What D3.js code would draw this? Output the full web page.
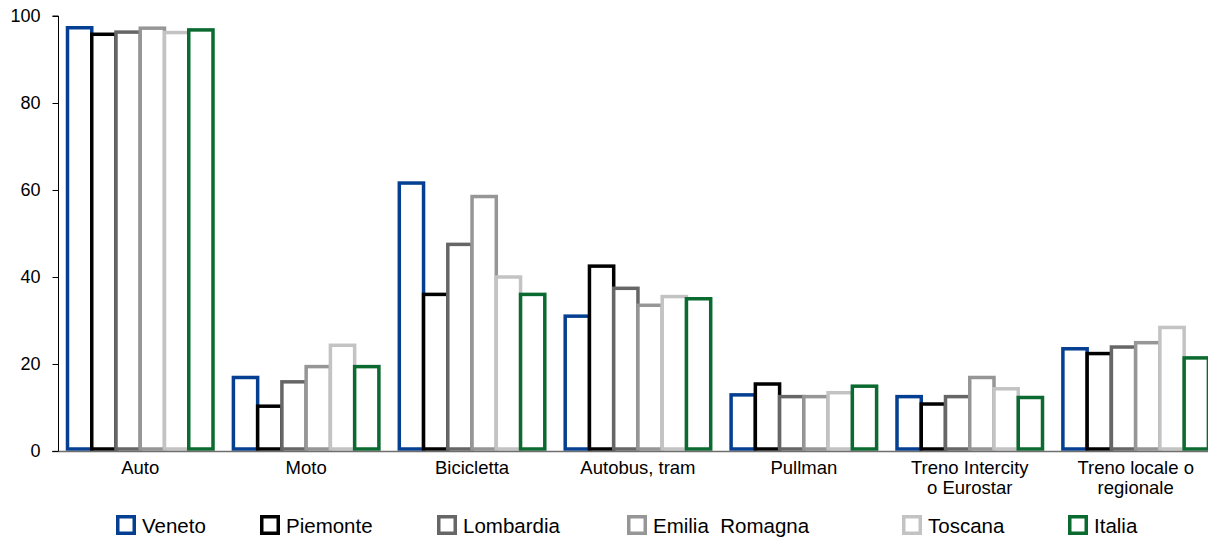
<!DOCTYPE html>
<html><head><meta charset="utf-8">
<script src="https://cdn.jsdelivr.net/npm/d3@7/dist/d3.min.js"></script>
<style>
html,body{margin:0;padding:0;background:#fff;}
svg{display:block;font-family:"Liberation Sans",Arial,sans-serif;}
</style></head>
<body>
<svg id="chart" width="1208" height="537"></svg>
<script>
const categories = [["Auto"],["Moto"],["Bicicletta"],["Autobus, tram"],["Pullman"],["Treno Intercity","o Eurostar"],["Treno locale o","regionale"]];
const seriesNames = ["Veneto","Piemonte","Lombardia","Emilia  Romagna","Toscana","Italia"];
const seriesColors = ["#053f91","#000000","#666666","#969696","#c3c3c3","#0b6a2f"];
const veneto    = [97.3, 16.9, 61.6, 31.0, 12.9, 12.5, 23.5];
const piemonte  = [95.8, 10.3, 36.0, 42.5, 15.4, 10.8, 22.4];
const lombardia = [96.3, 15.9, 47.5, 37.4, 12.5, 12.5, 23.9];
const emilia    = [97.2, 19.4, 58.5, 33.5, 12.5, 16.9, 24.9];
const toscana   = [96.2, 24.3, 40.0, 35.5, 13.4, 14.3, 28.4];
const italia    = [96.8, 19.4, 36.0, 35.0, 14.9, 12.3, 21.4];
const seriesValues = [veneto, piemonte, lombardia, emilia, toscana, italia];
const yTicks = [0, 20, 40, 60, 80, 100];

const svg = d3.select("#chart");
const left = 57.3, right = 1218.6, y0px = 451, y100px = 16;
const x0 = d3.scaleBand().domain(d3.range(categories.length)).range([left, right]).paddingInner(0).paddingOuter(0);
const groupPad = 10.2;
const x1 = d3.scaleBand().domain(d3.range(seriesNames.length)).range([groupPad, x0.bandwidth() - groupPad]).padding(0);
const y = d3.scaleLinear().domain([0, 100]).range([y0px, y100px]);
const sw = 3.5;

// bars
const g = svg.append("g");
categories.forEach((c, ci) => {
  seriesNames.forEach((s, si) => {
    const v = seriesValues[si][ci];
    const xs = x0(ci) + x1(si);
    g.append("rect")
      .attr("x", xs).attr("width", x1.bandwidth())
      .attr("y", y(v)).attr("height", Math.max(0, (y(0) - 2) - y(v)))
      .attr("fill", "#fff").attr("stroke", seriesColors[si]).attr("stroke-width", sw);
  });
});

// x baseline
svg.append("line").attr("x1", 52).attr("x2", 1208).attr("y1", y(0) + 0.5).attr("y2", y(0) + 0.5)
  .attr("stroke", "#6e6e6e").attr("stroke-width", 1.5);

// y axis
const yAxis = svg.append("g").attr("transform", `translate(58.5,0)`)
  .call(d3.axisLeft(y).tickValues(yTicks).tickSize(6).tickPadding(12).tickFormat(d3.format("d")));
yAxis.select(".domain").attr("stroke", "#000").attr("d", `M-6,${y(100)}H0V${y(0)}`);
yAxis.selectAll(".tick line").attr("stroke", "#000");
yAxis.selectAll("text").attr("font-size", 18).attr("fill", "#000").attr("font-family", "Liberation Sans, Arial, sans-serif");

// category labels
categories.forEach((lines, ci) => {
  const cx = x0(ci) + x0.bandwidth() / 2;
  const t = svg.append("text").attr("text-anchor", "middle").attr("font-size", 18.5).attr("fill", "#000");
  lines.forEach((ln, li) => {
    t.append("tspan").attr("x", cx).attr("y", 474 + li * 20).text(ln);
  });
});

// legend
const legendX = [116, 260, 437, 627, 902, 1068];
seriesNames.forEach((s, si) => {
  const lx = legendX[si];
  svg.append("rect").attr("x", lx + sw / 2).attr("y", 515 + sw / 2).attr("width", 20 - sw).attr("height", 20 - sw)
    .attr("fill", "#fff").attr("stroke", seriesColors[si]).attr("stroke-width", sw);
  svg.append("text").attr("x", lx + 26).attr("y", 533).attr("font-size", 20.5).attr("fill", "#000")
    .attr("xml:space", "preserve").style("white-space", "pre").text(s);
});
</script>
</body></html>
